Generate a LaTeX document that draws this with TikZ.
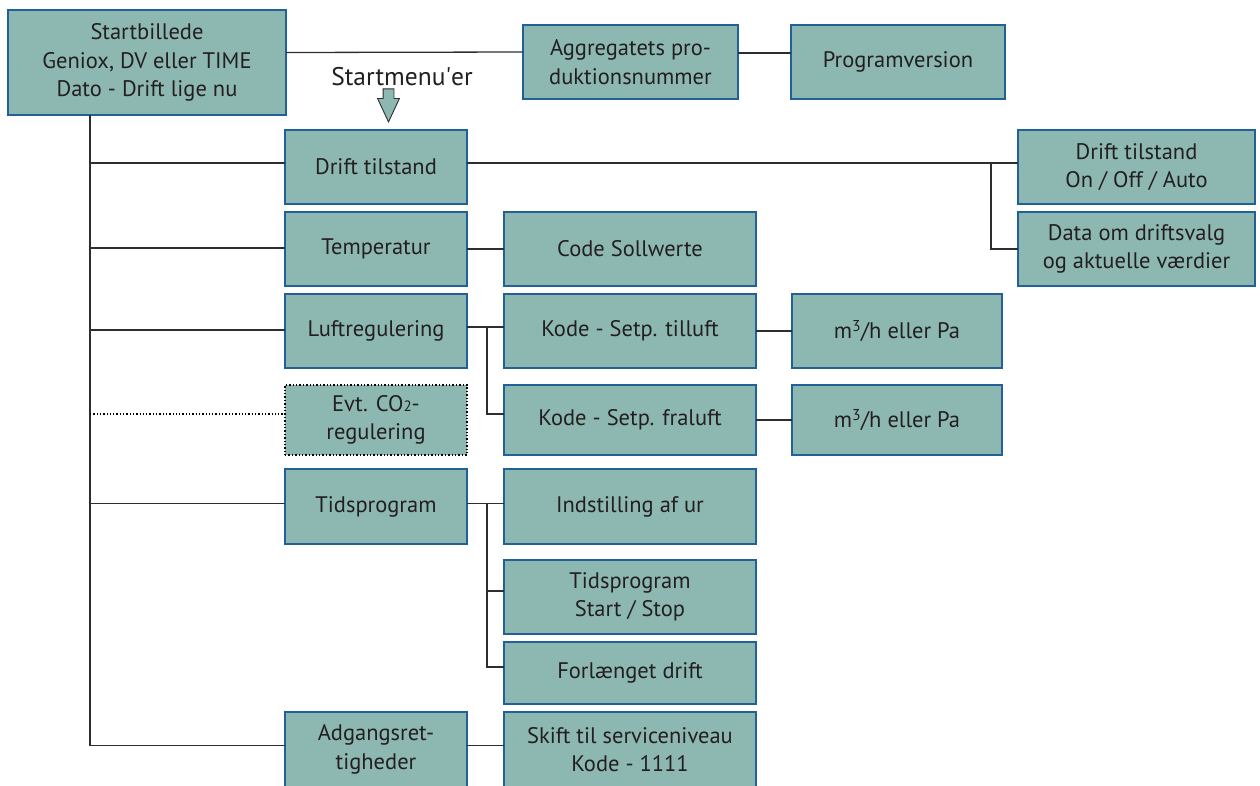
\documentclass[tikz,border=0pt]{standalone}
\usepackage{fontspec}
\setmainfont{PT Sans}
\usepackage{tikz}
\usetikzlibrary{shapes,arrows,positioning}

\definecolor{boxfill}{HTML}{8DB8B1}
\definecolor{boxline}{HTML}{22609A}
\definecolor{txt}{HTML}{231F20}
\definecolor{wire}{HTML}{2E2E2E}

\begin{document}
\begin{tikzpicture}[
    x=1pt, y=1pt,
    node distance=8pt,
    box/.style={rectangle, draw=boxline, line width=1.4pt, fill=boxfill, text=txt,
        minimum width=182pt, minimum height=74pt, inner sep=0pt, outer sep=0pt,
        align=center, font=\fontsize{22.5}{28.5}\selectfont},
    wide/.style={box, minimum width=252pt},
    line/.style={draw=wire, line width=1.3pt}
]
\useasboundingbox (0,0) rectangle (1260,-785);

\node[box, anchor=north west, minimum width=278pt, minimum height=105pt] (start) at (8,-10)
    {Startbillede\\Geniox, DV eller TIME\\Dato - Drift lige nu};
\node[box, anchor=north west, minimum width=215pt] (agg) at (523,-25) {Aggregatets pro-\\duktionsnummer};
\node[box, right=53pt of agg, minimum width=214pt] (prog) {Programversion};

\node[text=txt, font=\fontsize{25.5}{28}\selectfont] (menu) at (402,-77) {Startmenu\textquotesingle er};
\node[single arrow, draw=wire, line width=0.9pt, fill=boxfill, shape border rotate=270,
    minimum height=33pt, minimum width=21pt, single arrow head extend=5.5pt,
    single arrow tip angle=50, inner sep=5pt, anchor=tip] (menuarrow) at (388.5,-123) {};

% startmenu column
\node[box, anchor=north west] (drift) at (285,-130) {Drift tilstand};
\node[box, below=of drift] (temp) {Temperatur};
\node[box, below=of temp] (luft) {Luftregulering};
\node[box, below=17pt of luft, minimum height=70pt, draw=black, dotted, line width=2pt] (co2)
    {Evt. CO{\fontsize{15}{15}\selectfont 2}-\\regulering};
\node[box, below=14pt of co2, minimum height=75pt] (tids) {Tidsprogram};
\node[box, anchor=north west, minimum height=75pt] (adg) at (285,-712) {Adgangsret-\\tigheder};

% sub menus
\node[wide, right=37pt of temp] (code) {Code Sollwerte};
\node[wide, right=37pt of luft] (tilluft) {Kode - Setp. tilluft};
\node[wide, right=37pt of co2, minimum height=70pt] (fraluft) {Kode - Setp. fraluft};
\node[box, right=36pt of tilluft, minimum width=210pt] (mtil) {m\textsuperscript{3}/h eller Pa};
\node[box, right=36pt of fraluft, minimum width=210pt, minimum height=70pt] (mfra) {m\textsuperscript{3}/h eller Pa};
\node[wide, right=37pt of tids, minimum height=75pt] (ur) {Indstilling af ur};
\node[wide, below=16pt of ur] (startstop) {Tidsprogram\\Start / Stop};
\node[wide, below=of startstop, minimum height=62pt] (forl) {Forlænget drift};
\node[wide, right=37pt of adg, minimum height=75pt] (skift) {Skift til serviceniveau\\Kode - 1111};

\node[box, anchor=north west, minimum width=237pt] (driftR) at (1018,-130) {Drift tilstand\\On / Off / Auto};
\node[box, below=of driftR, minimum width=237pt] (data) {Data om driftsvalg\\og aktuelle værdier};

\coordinate (trunk) at (90,0);
\coordinate (jdrift) at (991,0);
\coordinate (jsub) at (487,0);

\draw[line] ([yshift=10pt]start.east) -- ([yshift=10pt]agg.west);
\draw[line] ([yshift=9pt]agg.east) -- ([yshift=9pt]prog.west);

\draw[line] (trunk |- start.south) |- ([yshift=4pt]adg.west);
\draw[line] ([yshift=4pt]trunk |- drift.west) -- ([yshift=4pt]drift.west);
\draw[line] ([yshift=1pt]trunk |- temp.west) -- ([yshift=1pt]temp.west);
\draw[line] ([yshift=1pt]trunk |- luft.west) -- ([yshift=1pt]luft.west);
\draw[line, dotted, draw=black, line width=1.8pt] ([yshift=6pt]trunk |- co2.west) -- ([yshift=6pt]co2.west);
\draw[line] ([yshift=3pt]trunk |- tids.west) -- ([yshift=3pt]tids.west);

\draw[line] ([yshift=4pt]drift.east) -- ([yshift=4pt]driftR.west);
\draw[line] ([yshift=4pt]jdrift |- driftR.west) |- (data.west);
\draw[line] (temp.east) -- (code.west);
\draw[line] ([yshift=4pt]luft.east) -- ([yshift=4pt]tilluft.west);
\draw[line] ([yshift=4pt]jsub |- tilluft.west) |- ([yshift=6pt]fraluft.west);
\draw[line] (tilluft.east) -- (mtil.west);
\draw[line] (fraluft.east) -- (mfra.west);
\draw[line] ([yshift=3pt]tids.east) -- ([yshift=3pt]ur.west);
\draw[line] ([yshift=3pt]jsub |- ur.west) |- ([yshift=6pt]startstop.west);
\draw[line] ([yshift=3pt]jsub |- ur.west) |- ([yshift=6pt]forl.west);
\draw[line] ([yshift=4pt]adg.east) -- ([yshift=4pt]skift.west);
\end{tikzpicture}
\end{document}
